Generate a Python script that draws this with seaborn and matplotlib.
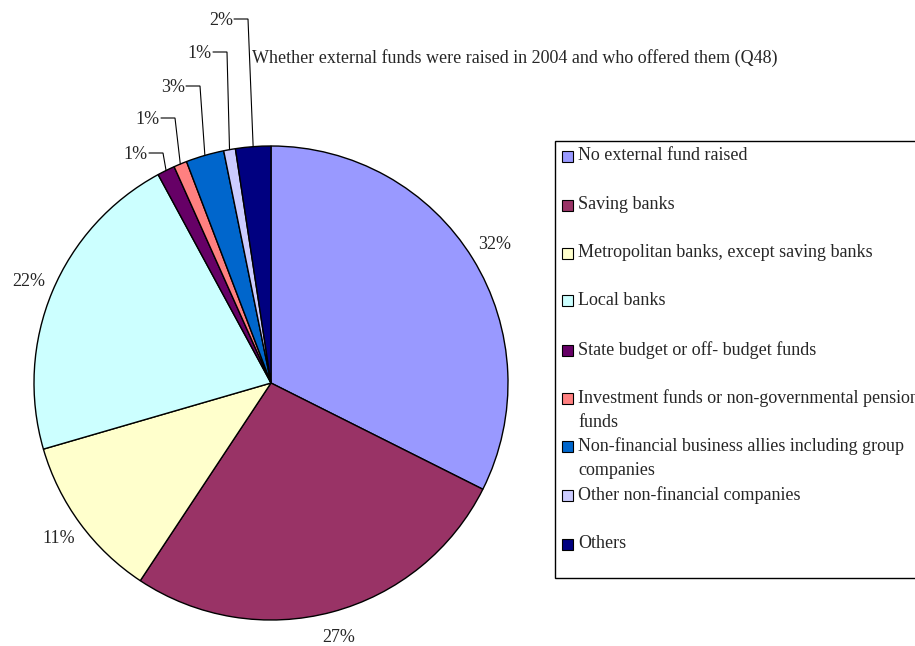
import numpy as np
import matplotlib
matplotlib.use("Agg")
import matplotlib.pyplot as plt
from matplotlib.patches import Rectangle
import seaborn as sns

# Survey answers (share of respondents, %)
categories = [
    "No external fund raised",
    "Saving banks",
    "Metropolitan banks, except saving banks",
    "Local banks",
    "State budget or off- budget funds",
    "Investment funds or non-governmental pension\nfunds",
    "Non-financial business allies including group\ncompanies",
    "Other non-financial companies",
    "Others",
]
shares = [32.4, 26.9, 11.2, 21.6, 1.2, 0.9, 2.6, 0.8, 2.4]
colors = ["#9999FF", "#993366", "#FFFFCC", "#CCFFFF", "#660066",
          "#FF8080", "#0066CC", "#CCCCFF", "#000080"]
title = "Whether external funds were raised in 2004 and who offered them (Q48)"

sns.set_style("white")
plt.rcParams["font.family"] = ["Liberation Serif", "DejaVu Serif"]
palette = sns.color_palette(colors)

W, H = 915, 646
fig = plt.figure(figsize=(W / 100, H / 100), dpi=100)
fig.patch.set_facecolor("white")

cx, cy, r = 271, 383, 237
ax = fig.add_axes([(cx - r) / W, (H - cy - r) / H, 2 * r / W, 2 * r / H])
wedges, _ = ax.pie(shares, colors=palette, startangle=90, counterclock=False,
                   radius=1.0, wedgeprops=dict(edgecolor="black", linewidth=1.0))
ax.set_xlim(-1, 1)
ax.set_ylim(-1, 1)
ax.set_aspect("equal")
ax.axis("off")

total = sum(shares)
fs = 13


def to_data(px, py):
    return (px - cx) / r, (cy - py) / r


# Small slices get leader lines; large ones a label just outside the rim
elbows = {4: (163, 153), 5: (175, 118), 6: (200, 86), 7: (227, 52), 8: (248, 19)}
for i, (w, v) in enumerate(zip(wedges, shares)):
    mid = np.deg2rad((w.theta1 + w.theta2) / 2)
    ex, ey = np.cos(mid), np.sin(mid)
    label = f"{v / total * 100:.0f}%"
    if i in elbows:
        bx, by = to_data(*elbows[i])
        hx = bx - 14 / r
        ax.plot([hx, bx, ex], [by, by, ey], color="black", lw=0.8,
                clip_on=False, solid_joinstyle="miter")
        ax.text(hx - 1 / r, by - 1.5 / r, label, ha="right", va="center",
                fontsize=fs, clip_on=False)
    else:
        ax.text(1.11 * ex, 1.11 * ey, label, ha="center", va="center",
                fontsize=fs, clip_on=False)

fig.text(252 / W, 1 - 58 / H, title, ha="left", va="center", fontsize=fs)

# Legend panel (runs off the right edge of the figure)
box = Rectangle((555 / W, 1 - 578 / H), (W + 10 - 555) / W, (578 - 141) / H,
                transform=fig.transFigure, facecolor="white",
                edgecolor="black", lw=1.0, clip_on=False)
fig.add_artist(box)
row_y = [156, 205, 253, 301, 350, 398, 446, 495, 544]
sq = 11
for name, col, y in zip(categories, palette, row_y):
    fig.add_artist(Rectangle((562 / W, 1 - (y + sq / 2) / H), sq / W, sq / H,
                             transform=fig.transFigure, facecolor=col,
                             edgecolor="black", lw=0.8))
    fig.text(578 / W, 1 - (y - 9) / H, name, ha="left", va="top",
             fontsize=fs, linespacing=1.58)

fig.savefig("out.png", dpi=100)
